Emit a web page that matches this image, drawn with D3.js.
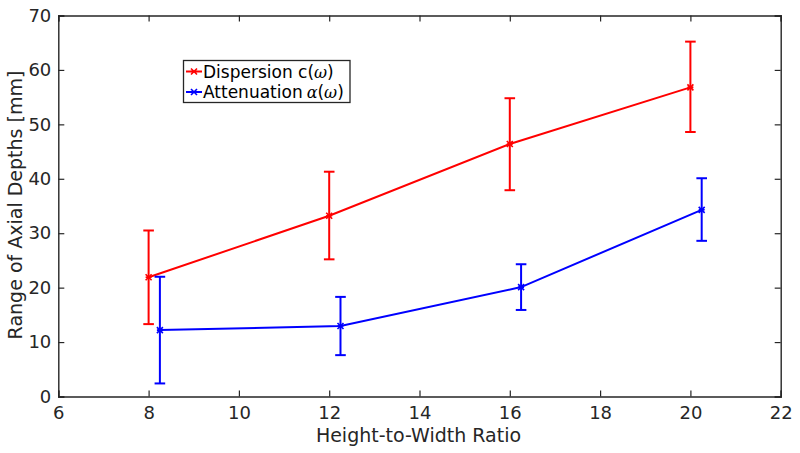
<!DOCTYPE html>
<html><head><meta charset="utf-8">
<script src="https://cdn.jsdelivr.net/npm/d3@7"></script>
<style>
body{margin:0;background:#fff;}
svg{display:block;font-family:"DejaVu Sans",sans-serif;}
</style></head>
<body><svg id="c" width="800" height="453"></svg>
<script>
const ratios = [8, 12, 16, 20];
const attenOffset = 0.25;
const dispersion = [21.9, 33.2, 46.4, 56.8];
const dispersionLow = [8.6, 8.0, 8.5, 8.2];
const dispersionHigh = [8.6, 8.1, 8.4, 8.4];
const attenuation = [12.2, 12.95, 20.1, 34.3];
const attenuationLow = [9.8, 5.35, 4.2, 5.7];
const attenuationHigh = [9.8, 5.35, 4.2, 5.8];
const xTicks = [6, 8, 10, 12, 14, 16, 18, 20, 22];
const yTicks = [0, 10, 20, 30, 40, 50, 60, 70];

(function(){
const svg = d3.select("#c");
const L = 58.3, R = 780.7, T = 15.5, B = 396.5;
const x = d3.scaleLinear().domain([6, 22]).range([L, R]);
const y = d3.scaleLinear().domain([0, 70]).range([B, T]);
const axisCol = "#262626";

const series = [
  {name: "disp", color: "#ff0000", xs: ratios, v: dispersion, lo: dispersionLow, hi: dispersionHigh},
  {name: "att", color: "#0000ff", xs: ratios.map(r => r + attenOffset), v: attenuation, lo: attenuationLow, hi: attenuationHigh}
];

function marker(g, cx, cy, color) {
  const s = 3;
  g.append("path")
    .attr("d", `M${cx-s},${cy-s}L${cx+s},${cy+s}M${cx-s},${cy+s}L${cx+s},${cy-s}M${cx-s},${cy}L${cx+s},${cy}`)
    .attr("stroke", color).attr("stroke-width", 1.6).attr("fill", "none");
}

const plot = svg.append("g");
series.forEach(s => {
  const pts = s.xs.map((xv, i) => [xv, s.v[i]]);
  plot.append("path").datum(pts)
    .attr("d", d3.line().x(d => x(d[0])).y(d => y(d[1])))
    .attr("fill", "none").attr("stroke", s.color).attr("stroke-width", 2);
  s.xs.forEach((xv, i) => {
    const cx = x(xv), y1 = y(s.v[i] - s.lo[i]), y2 = y(s.v[i] + s.hi[i]);
    const g = plot.append("g").attr("stroke", s.color).attr("stroke-width", 2);
    g.append("line").attr("x1", cx).attr("x2", cx).attr("y1", y1).attr("y2", y2);
    g.append("line").attr("x1", cx - 5.3).attr("x2", cx + 5.3).attr("y1", y1).attr("y2", y1);
    g.append("line").attr("x1", cx - 5.3).attr("x2", cx + 5.3).attr("y1", y2).attr("y2", y2);
    marker(plot, cx, y(s.v[i]), s.color);
  });
});

// axes
const ax = svg.append("g");
const axB = ax.append("g").attr("transform", `translate(0,${B})`)
  .call(d3.axisBottom(x).tickValues(xTicks).tickSize(-6).tickPadding(10).tickFormat(d3.format("d")));
const axT = ax.append("g").attr("transform", `translate(0,${T})`)
  .call(d3.axisTop(x).tickValues(xTicks).tickSize(-6).tickFormat(""));
const axL = ax.append("g").attr("transform", `translate(${L},0)`)
  .call(d3.axisLeft(y).tickValues(yTicks).tickSize(-6).tickPadding(7).tickFormat(d3.format("d")));
const axR = ax.append("g").attr("transform", `translate(${R},0)`)
  .call(d3.axisRight(y).tickValues(yTicks).tickSize(-6).tickFormat(""));
[axB, axT, axL, axR].forEach(a => {
  a.selectAll("path.domain").attr("stroke", axisCol).attr("stroke-width", 1.4);
  a.selectAll(".tick line").attr("stroke", axisCol).attr("stroke-width", 1.2);
  a.selectAll("text").attr("fill", axisCol).attr("font-size", 18).attr("font-family", "DejaVu Sans");
});
axB.selectAll("text").attr("dy", "0.71em");

svg.append("text").attr("x", (L + R) / 2 - 1).attr("y", 442)
  .attr("text-anchor", "middle").attr("font-size", 19).attr("fill", axisCol)
  .text("Height-to-Width Ratio");
svg.append("text").attr("transform", `translate(22,${(T + B) / 2 - 1}) rotate(-90)`)
  .attr("text-anchor", "middle").attr("font-size", 19).attr("fill", axisCol)
  .text("Range of Axial Depths [mm]");

// legend
const lg = svg.append("g");
lg.append("rect").attr("x", 183.5).attr("y", 60.5).attr("width", 166.5).attr("height", 42)
  .attr("fill", "#fff").attr("stroke", axisCol).attr("stroke-width", 1.3);
const legendItems = [
  {color: "#ff0000", main: "Dispersion c(", yy: 71.5},
  {color: "#0000ff", main: "Attenuation", yy: 92}
];
legendItems.forEach((it, i) => {
  lg.append("line").attr("x1", 186).attr("x2", 202).attr("y1", it.yy).attr("y2", it.yy)
    .attr("stroke", it.color).attr("stroke-width", 2);
  marker(lg, 194, it.yy, it.color);
  const t = lg.append("text").attr("x", 203).attr("y", it.yy + 6).attr("font-size", 17).attr("fill", "#000");
  t.append("tspan").text(it.main);
  if (i === 0) {
    t.append("tspan").attr("font-family", "DejaVu Serif").attr("font-style", "italic").attr("font-size", 16).text("ω");
    t.append("tspan").text(")");
  } else {
    t.append("tspan").attr("dx", 4).attr("font-family", "DejaVu Serif").attr("font-style", "italic").attr("font-size", 16).text("α");
    t.append("tspan").text("(");
    t.append("tspan").attr("font-family", "DejaVu Serif").attr("font-style", "italic").attr("font-size", 16).text("ω");
    t.append("tspan").text(")");
  }
});
})();
</script></body></html>
